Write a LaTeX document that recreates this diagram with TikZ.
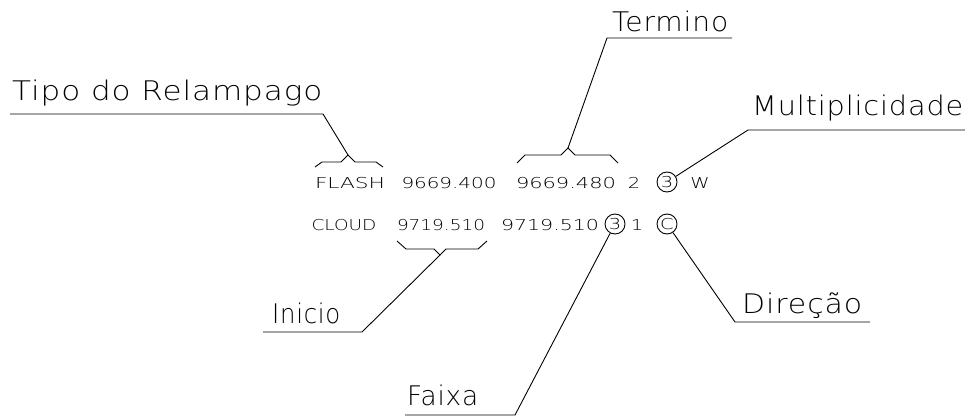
\documentclass[tikz,border=0pt]{standalone}
\usepackage{fontspec}
\setmainfont{DejaVu Sans ExtraLight}
\newfontfamily\rowfont{DejaVu Sans ExtraLight}[FakeStretch=1.3]
\newfontfamily\lblfont{DejaVu Sans ExtraLight}[LetterSpace=3]
% text stretched to the width it has in the drawing
\newcommand\wide[2]{\resizebox{#1}{\height}{#2}}

\tikzset{
  lbl/.style={font=\lblfont\fontsize{27}{30}\selectfont, inner sep=0pt, anchor=base west},
  rowtxt/.style={font=\rowfont\fontsize{15}{18}\selectfont, inner sep=0pt, anchor=base},
  ring/.style={circle, draw, line width=0.9pt, minimum size=20pt, inner sep=0pt,
    font=\rowfont\fontsize{15}{18}\selectfont},
  leader/.style={line width=0.9pt, line join=miter},
}

\begin{document}
\begin{tikzpicture}[x=1pt, y=-1pt]
  \useasboundingbox (0,0) rectangle (965,417);

  % the two records
  \node (flash) [rowtxt] at (350,188) {\wide{70pt}{FLASH}};
  \node (ini1)  [rowtxt] at (449,188) {\wide{95pt}{9669.400}};
  \node (fim1)  [rowtxt] at (566,188) {\wide{100pt}{9669.480}};
  \node (two)   [rowtxt] at (634,188) {2};
  \node (mring) [ring]   at (667,182) {3};
  \node (west)  [rowtxt] at (700,188) {W};

  \node (cloud) [rowtxt] at (344,230) {\wide{65pt}{CLOUD}};
  \node (ini2)  [rowtxt] at (441,230) {\wide{88pt}{9719.510}};
  \node (fim2)  [rowtxt] at (550,230) {\wide{98pt}{9719.510}};
  \node (fring) [ring]   at (615,224) {3};
  \node (one)   [rowtxt] at (637,230) {1};
  \node (dring) [ring]   at (667,224) {C};

  % braces
  \draw[leader] (315,167) -- (322,162) -- (341,162) -- (348,155) -- (355,162) -- (376,162) -- (383,167);
  \draw[leader] (517,163) -- (525,155) -- (561,155) -- (568,148) -- (575,155) -- (610,155) -- (618,163);
  \draw[leader] (397,241) -- (406,249) -- (434,249) -- (440,255) -- (446,249) -- (478,249) -- (487,241);
  \coordinate (flashtip) at (348,155);
  \coordinate (fimtip)   at (568,148);
  \coordinate (initip)   at (440,255);

  % labels
  \node (tipo)  [lbl] at (12,101)  {\wide{310pt}{Tipo do Relampago}};
  \node (term)  [lbl] at (612,32)  {\wide{116pt}{Termino}};
  \node (mult)  [lbl] at (752,115) {\wide{211pt}{Multiplicidade}};
  \node (inic)  [lbl] at (272,323) {\wide{68pt}{Inicio}};
  \node (faixa) [lbl] at (407,405) {\wide{71pt}{Faixa}};
  \node (dirc)  [lbl] at (742,313) {\wide{120pt}{Direção}};

  \coordinate (tipoR)  at (323,114);  \coordinate (tipoL)  at (10,114);
  \coordinate (termL)  at (607,38);   \coordinate (termR)  at (732,38);
  \coordinate (multL)  at (748,130);  \coordinate (multR)  at (965,130);
  \coordinate (inicR)  at (362,332);  \coordinate (inicL)  at (263,332);
  \coordinate (faixaR) at (515,415);  \coordinate (faixaL) at (405,415);
  \coordinate (dircL)  at (735,322);  \coordinate (dircR)  at (870,322);

  % leaders
  \draw[leader] (flashtip) -- (tipoR) -- (tipoL);
  \draw[leader] (fimtip) -- (termL) -- (termR);
  \draw[leader] (mring) -- (multL) -- (multR);
  \draw[leader] (initip) -- (inicR) -- (inicL);
  \draw[leader] (fring) -- (faixaR) -- (faixaL);
  \draw[leader] (dring) -- (dircL) -- (dircR);
\end{tikzpicture}
\end{document}
